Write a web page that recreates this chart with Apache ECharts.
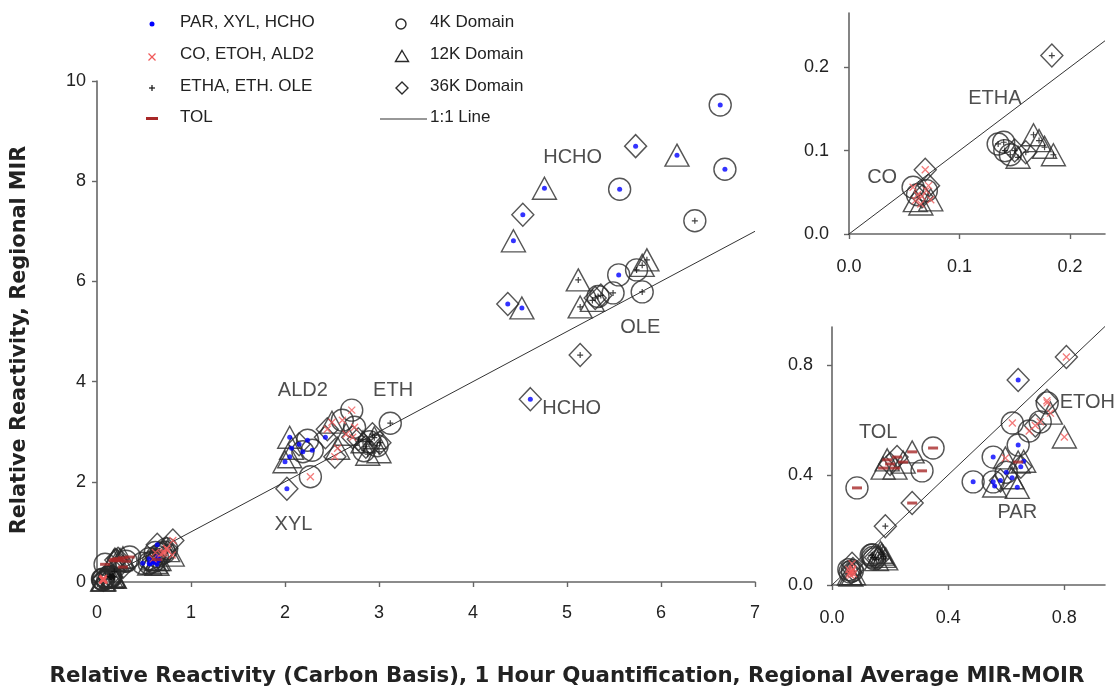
<!DOCTYPE html>
<html><head><meta charset="utf-8">
<script src="https://cdn.jsdelivr.net/npm/echarts@6/dist/echarts.min.js"></script>
<style>html,body{margin:0;padding:0;background:#fff}#c{width:1120px;height:689px}</style>
</head><body><div id="c"></div>
<script>
// ---- data: [x, y, domain] ----
const PAR = [[0.486,0.375,'4K'],[0.555,0.465,'4K'],[0.555,0.375,'4K'],[0.641,0.509,'4K'],[0.60,0.41,'4K'],
  [0.638,0.355,'12K'],[0.56,0.36,'12K'],[0.66,0.45,'12K'],[0.62,0.39,'12K'],
  [0.641,0.745,'36K'],[0.58,0.38,'36K'],[0.65,0.43,'36K']];
const XYL = [[2.24,2.83,'4K'],[2.29,2.63,'4K'],[2.19,2.60,'4K'],
  [2.05,2.89,'12K'],[2.05,2.50,'12K'],[2.07,2.67,'12K'],[2.00,2.40,'12K'],
  [2.02,1.86,'36K'],[2.43,2.89,'36K'],[2.15,2.75,'36K']];
const HCHO = [[6.63,9.52,'4K'],[6.68,8.24,'4K'],[5.56,7.84,'4K'],[5.55,6.13,'4K'],
  [6.17,8.52,'12K'],[4.76,7.86,'12K'],[4.43,6.81,'12K'],[4.52,5.47,'12K'],
  [5.73,8.70,'36K'],[4.53,7.33,'36K'],[4.37,5.55,'36K'],[4.61,3.65,'36K']];
const CO = [[0.062,0.047,'4K'],[0.058,0.056,'4K'],[0.070,0.052,'4K'],
  [0.074,0.041,'12K'],[0.065,0.036,'12K'],[0.060,0.040,'12K'],
  [0.069,0.077,'36K'],[0.066,0.045,'36K'],[0.072,0.058,'36K']];
const ETOH = [[0.741,0.662,'4K'],[0.621,0.589,'4K'],[0.679,0.56,'4K'],[0.717,0.593,'4K'],
  [0.80,0.538,'12K'],[0.752,0.625,'12K'],[0.597,0.462,'12K'],
  [0.807,0.829,'36K'],[0.74,0.67,'36K'],[0.70,0.58,'36K']];
const ALD2 = [[2.27,2.10,'4K'],[2.71,3.43,'4K'],[2.61,3.23,'4K'],[2.74,3.09,'4K'],
  [2.56,2.67,'12K'],[2.50,3.19,'12K'],[2.65,2.95,'12K'],
  [2.53,2.50,'36K'],[2.72,2.89,'36K'],[2.45,3.05,'36K']];
const ETHA = [[0.135,0.108,'4K'],[0.141,0.100,'4K'],[0.146,0.095,'4K'],[0.140,0.110,'4K'],
  [0.167,0.119,'12K'],[0.177,0.104,'12K'],[0.185,0.095,'12K'],[0.153,0.092,'12K'],[0.172,0.112,'12K'],
  [0.1836,0.214,'36K'],[0.150,0.100,'36K'],[0.160,0.098,'36K']];
const ETH = [[3.12,3.17,'4K'],[2.90,2.80,'4K'],[2.98,2.72,'4K'],[2.84,2.62,'4K'],
  [2.83,2.80,'12K'],[2.95,2.88,'12K'],[3.00,2.60,'12K'],[2.88,2.55,'12K'],
  [2.86,2.70,'36K'],[2.93,2.95,'36K'],[2.78,2.85,'36K'],[3.01,2.78,'36K']];
const OLE = [[6.36,7.21,'4K'],[5.80,5.79,'4K'],[5.74,6.23,'4K'],[5.49,5.77,'4K'],[5.33,5.70,'4K'],
  [5.12,6.03,'12K'],[5.85,6.43,'12K'],[5.14,5.49,'12K'],[5.27,5.62,'12K'],[5.80,6.32,'12K'],
  [5.14,4.53,'36K'],[5.30,5.67,'36K'],[5.36,5.72,'36K']];
const TOL = [[0.086,0.353,'4K'],[0.348,0.498,'4K'],[0.310,0.415,'4K'],
  [0.19,0.455,'12K'],[0.217,0.425,'12K'],[0.176,0.425,'12K'],[0.276,0.484,'12K'],[0.245,0.447,'12K'],[0.641,0.447,'12K'],
  [0.276,0.298,'36K'],[0.224,0.465,'36K'],[0.20,0.44,'36K']];

const groupNames = ['PAR, XYL, HCHO','CO, ETOH, ALD2','ETHA, ETH. OLE','TOL'];
const domainNames = ['4K Domain','12K Domain','36K Domain'];
const domainKeys = ['4K','12K','36K'];

// panel axes
const mainXTicks = [0,1,2,3,4,5,6,7];
const mainYTicks = [0,2,4,6,8,10];
const inset1Ticks = [0,0.1,0.2];
const inset2Ticks = [0,0.4,0.8];
const panelMax = [[7,10],[0.2317,0.265],[0.94,0.938]];
const oneToOne = [[[0,0],[7,7]],[[-0.015,-0.015],[0.2317,0.2317]],[[-0.04,-0.04],[0.94,0.94]]];

const labelsMain = [[5.06,8.48,'HCHO'],[2.19,3.83,'ALD2'],[3.15,3.83,'ETH'],[2.09,1.14,'XYL'],[5.78,5.09,'OLE'],[5.05,3.47,'HCHO']];
const labelsInset1 = [[0.030,0.068,'CO'],[0.132,0.163,'ETHA']];
const labelsInset2 = [[0.159,0.553,'TOL'],[0.879,0.665,'ETOH'],[0.638,0.262,'PAR']];

// ---- build ----
const groups = [[PAR,XYL,HCHO],[CO,ETOH,ALD2],[ETHA,ETH,OLE],[TOL]];
const FONT = 'Liberation Sans, Arial, sans-serif';
const TXT = '#222';
const innerStyles = [
  {symbol:'circle', symbolSize:5, itemStyle:{color:'#0000ff'}},
  {symbol:'path://M0,0L10,10M10,0L0,10', symbolSize:7, itemStyle:{color:'#f05a5a', borderColor:'#f05a5a', borderWidth:1.3}},
  {symbol:'path://M5,0L5,10M0,5L10,5', symbolSize:6, itemStyle:{color:'#111', borderColor:'#111', borderWidth:1.2}},
  {symbol:'rect', symbolSize:[10,3], itemStyle:{color:'#a82828'}}
];
const outerStyles = [
  {symbol:'circle', symbolSize:22},
  {symbol:'triangle', symbolSize:[24,22]},
  {symbol:'diamond', symbolSize:[22,23]}
];
const allPoints = groups.flat().flat();

const grids = [
  {left:97, top:81, width:658, height:501},
  {left:849, top:13, width:256, height:221},
  {left:832, top:327, width:273, height:258}
];
const tickSets = [[mainXTicks,mainYTicks],[inset1Ticks,inset1Ticks],[inset2Ticks,inset2Ticks]];
const fmt = [v => String(v), v => v.toFixed(1), v => v.toFixed(1)];
const xMargins = [22, 24, 24], yMargins = [11, 20, 19];
const axisLine = {show:true, onZero:false, lineStyle:{color:'#666', width:1.6}};

const xAxis = [], yAxis = [], series = [];
for (let g = 0; g < 3; g++) {
  xAxis.push({type:'value', gridIndex:g, min:0, max:panelMax[g][0], axisLine,
    axisTick:{show:true, length:5, lineStyle:{color:'#666', width:1.4}, customValues:tickSets[g][0]},
    axisLabel:{customValues:tickSets[g][0], formatter:fmt[g], margin:xMargins[g], color:TXT, fontSize:18, fontFamily:FONT},
    splitLine:{show:false}});
  yAxis.push({type:'value', gridIndex:g, min:0, max:panelMax[g][1], axisLine,
    axisTick:{show:true, length:5, lineStyle:{color:'#666', width:1.4}, customValues:tickSets[g][1]},
    axisLabel:{customValues:tickSets[g][1], formatter:fmt[g], margin:yMargins[g], color:TXT, fontSize:18, fontFamily:FONT},
    splitLine:{show:false}});
  series.push({type:'line', xAxisIndex:g, yAxisIndex:g, data:oneToOne[g], symbol:'none', clip:false,
    lineStyle:{color:'#333', width:1}, z:1, silent:true});
  domainKeys.forEach((k, d) => {
    series.push(Object.assign({type:'scatter', name:domainNames[d], xAxisIndex:g, yAxisIndex:g, clip:true, z:2, silent:true,
      itemStyle:{color:'rgba(0,0,0,0)', borderColor:'#2a2a2a', borderWidth:1.4},
      data: allPoints.filter(p => p[2] === k).map(p => [p[0], p[1]])}, outerStyles[d]));
  });
  groups.forEach((arrs, i) => {
    series.push(Object.assign({type:'scatter', name:groupNames[i], xAxisIndex:g, yAxisIndex:g, clip:true, z:3, silent:true,
      data: arrs.flat().map(p => [p[0], p[1]])}, innerStyles[i]));
  });
  const lbl = [labelsMain, labelsInset1, labelsInset2][g];
  series.push({type:'scatter', xAxisIndex:g, yAxisIndex:g, symbolSize:1, z:4, silent:true, clip:false,
    itemStyle:{color:'rgba(0,0,0,0)'},
    label:{show:true, position:'inside', formatter:p => p.value[2], color:TXT, fontSize:20, fontFamily:FONT},
    data: lbl.map(l => [l[0], l[1], l[2]])});
}

// legend (drawn as graphics so marker+shape styles match)
const LF = '17px ' + FONT;
const legendRows = [24, 56, 88, 119];
const graphic = [];
groupNames.forEach((n, i) => graphic.push({type:'text', left:180, top:legendRows[i]-10, style:{text:n, font:LF, fill:TXT}}));
domainNames.concat(['1:1 Line']).forEach((n, i) => graphic.push({type:'text', left:430, top:legendRows[i]-10, style:{text:n, font:LF, fill:TXT}}));
graphic.push({type:'circle', shape:{cx:152, cy:legendRows[0], r:2.5}, style:{fill:'#0000ff'}});
graphic.push({type:'polyline', shape:{points:[[148.5,53.5],[155.5,60.5]]}, style:{stroke:'#f05a5a', lineWidth:1.3, fill:null}});
graphic.push({type:'polyline', shape:{points:[[155.5,53.5],[148.5,60.5]]}, style:{stroke:'#f05a5a', lineWidth:1.3, fill:null}});
graphic.push({type:'polyline', shape:{points:[[152,85],[152,91]]}, style:{stroke:'#111', lineWidth:1.2, fill:null}});
graphic.push({type:'polyline', shape:{points:[[149,88],[155,88]]}, style:{stroke:'#111', lineWidth:1.2, fill:null}});
graphic.push({type:'rect', shape:{x:146, y:117, width:12, height:3}, style:{fill:'#a82828'}});
graphic.push({type:'circle', shape:{cx:401, cy:24, r:5}, style:{fill:'none', stroke:'#2a2a2a', lineWidth:1.4}});
graphic.push({type:'polygon', shape:{points:[[402,50.5],[408.5,61.5],[395.5,61.5]]}, style:{fill:'none', stroke:'#2a2a2a', lineWidth:1.4}});
graphic.push({type:'polygon', shape:{points:[[402,82],[408,88],[402,94],[396,88]]}, style:{fill:'none', stroke:'#2a2a2a', lineWidth:1.4}});
graphic.push({type:'polyline', shape:{points:[[380,119],[427,119]]}, style:{stroke:'#333', lineWidth:1.2, fill:null}});
// axis titles
graphic.push({type:'text', x:567, y:676, style:{text:'Relative Reactivity (Carbon Basis), 1 Hour Quantification, Regional Average MIR-MOIR',
  font:'bold 21.3px DejaVu Sans, sans-serif', fill:TXT, align:'center', verticalAlign:'middle'}});
graphic.push({type:'text', x:20, y:340, rotation:Math.PI/2, style:{text:'Relative Reactivity, Regional MIR',
  font:'bold 20.8px DejaVu Sans, sans-serif', fill:TXT, align:'center', verticalAlign:'middle'}});

const chart = echarts.init(document.getElementById('c'), null, {renderer:'canvas'});
chart.setOption({animation:false, backgroundColor:'#fff', grid:grids, xAxis, yAxis, series, graphic});
</script></body></html>
